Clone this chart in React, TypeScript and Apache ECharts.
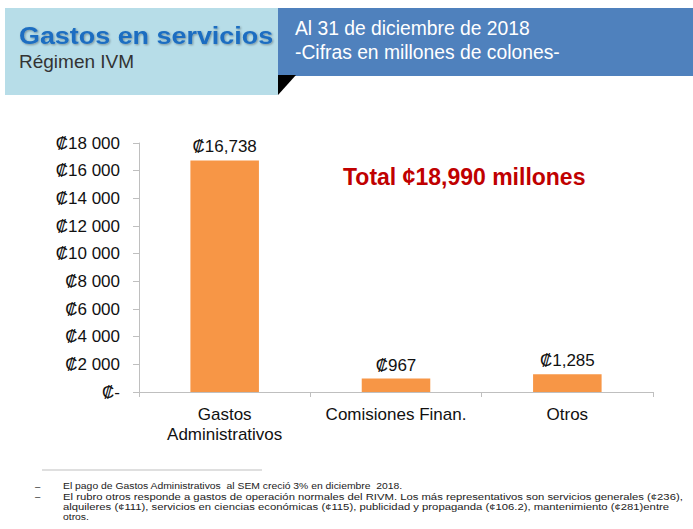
import React, { useEffect, useRef } from "react";
import * as echarts from "echarts";

const categories = ["Gastos\nAdministrativos", "Comisiones Finan.", "Otros"];
const values = [16738, 967, 1285];
const yMax = 18000;
const yInterval = 2000;

const titleMain = "Gastos en servicios";
const titleSub = "Régimen IVM";
const headerLines = ["Al 31 de diciembre de 2018", "-Cifras en millones de colones-"];
const totalText = "Total ¢18,990 millones";
const footnoteLines = [
  "El pago de Gastos Administrativos  al SEM creció 3% en diciembre  2018.",
  "El rubro otros responde a gastos de operación normales del RIVM. Los más representativos son servicios generales (¢236),",
  "alquileres (¢111), servicios en ciencias económicas (¢115), publicidad y propaganda (¢106.2), mantenimiento (¢281)entre",
  "otros.",
];
const footnoteBullets = [0, 1];

const FONT = "Liberation Sans, Arial, Helvetica, DejaVu Sans, sans-serif";

function fmtAxis(v: number): string {
  if (v === 0) return "₡-";
  const s = String(Math.round(v));
  return "₡" + s.replace(/\B(?=(\d{3})+(?!\d))/g, " ");
}
function fmtLabel(v: number): string {
  return "₡" + v.toLocaleString("en-US");
}

export default function App() {
  const ref = useRef<HTMLDivElement>(null);
  useEffect(() => {
    if (!ref.current) return;
    const chart = echarts.init(ref.current, null, { renderer: "svg" });
    const footY = [486, 496.5, 506.5, 516.5];
    const footScale = [1.08, 1.175, 1.175, 1.08];
    const graphics: any[] = [
      { type: "rect", shape: { x: 5, y: 8, width: 273, height: 87 }, style: { fill: "#B7DDE8" }, z: 1 },
      { type: "rect", shape: { x: 278, y: 8, width: 415, height: 68 }, style: { fill: "#4F81BD" }, z: 1 },
      { type: "polygon", shape: { points: [[278, 75], [296, 75], [278, 95]] }, style: { fill: "#000" }, z: 2 },
      {
        type: "text", x: 19, y: 36, scaleX: 1.17, z: 3,
        style: {
          text: titleMain, font: `bold 23px ${FONT}`, fill: "#1B6DC1", verticalAlign: "middle",
          textShadowColor: "rgba(0,0,0,0.35)", textShadowBlur: 2, textShadowOffsetX: 1, textShadowOffsetY: 1,
        },
      },
      {
        type: "text", x: 19, y: 61, z: 3,
        style: { text: titleSub, font: `19px ${FONT}`, fill: "#333", verticalAlign: "middle" },
      },
      ...headerLines.map((t, i) => ({
        type: "text", x: 295, y: 28 + i * 24, z: 3,
        style: { text: t, font: `19.3px ${FONT}`, fill: "#fff", verticalAlign: "middle" },
      })),
      {
        type: "text", x: 343, y: 177, z: 3,
        style: { text: totalText, font: `bold 23px ${FONT}`, fill: "#C00000", verticalAlign: "middle" },
      },
      { type: "line", shape: { x1: 42, y1: 470, x2: 262, y2: 470 }, style: { stroke: "#BFBFBF", lineWidth: 1 } },
      ...footnoteLines.map((t, i) => ({
        type: "text", x: 63, y: footY[i], scaleX: footScale[i], z: 3,
        style: { text: t, font: `9.6px ${FONT}`, lineHeight: 10, fill: "#222", verticalAlign: "middle" },
      })),
      ...footnoteBullets.map((i) => ({
        type: "text", x: 35, y: footY[i], z: 3,
        style: { text: "–", font: `9.6px ${FONT}`, lineHeight: 10, fill: "#222", verticalAlign: "middle" },
      })),
    ];
    chart.setOption({
      animation: false,
      backgroundColor: "#fff",
      grid: { left: 139, right: 40, top: 143, bottom: 137, containLabel: false },
      xAxis: {
        type: "category",
        data: categories,
        axisLine: { lineStyle: { color: "#BFBFBF" } },
        axisTick: { show: true, length: 5, lineStyle: { color: "#BFBFBF" } },
        axisLabel: { color: "#111", fontSize: 17, fontFamily: FONT, margin: 12, lineHeight: 20, interval: 0 },
      },
      yAxis: {
        type: "value",
        min: 0,
        max: yMax,
        interval: yInterval,
        splitLine: { show: false },
        axisLine: { show: true, lineStyle: { color: "#BFBFBF" } },
        axisTick: { show: true, length: 6, lineStyle: { color: "#BFBFBF" } },
        axisLabel: { color: "#111", fontSize: 17, fontFamily: FONT, margin: 19, formatter: fmtAxis },
      },
      series: [
        {
          type: "bar",
          data: values,
          barWidth: "40%",
          itemStyle: { color: "#F79646" },
          label: {
            show: true, position: "top", distance: 5, color: "#111", fontSize: 17, fontFamily: FONT,
            formatter: (p: any) => fmtLabel(p.value),
          },
        },
      ],
      graphic: graphics,
    });
    return () => chart.dispose();
  }, []);
  return <div ref={ref} style={{ position: "fixed", left: 0, top: 0, width: 693, height: 529 }} />;
}
